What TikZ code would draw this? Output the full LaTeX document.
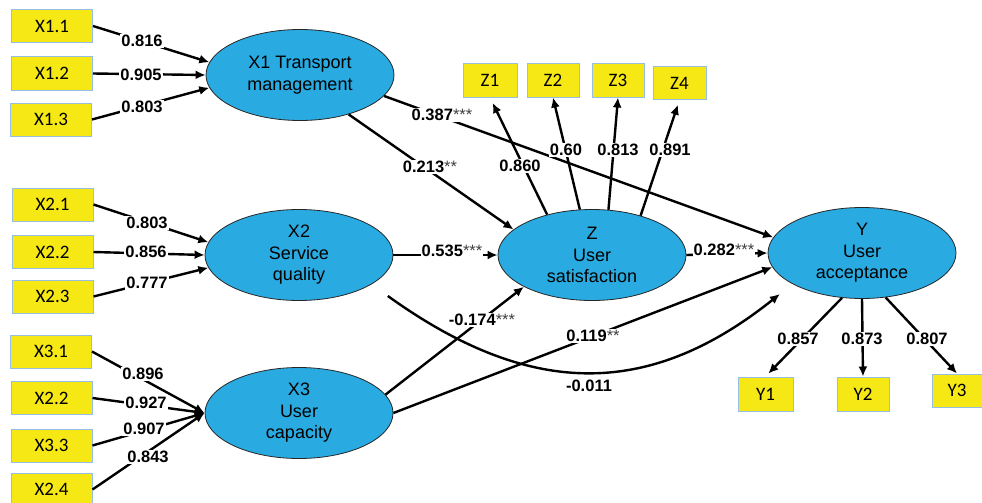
\documentclass[tikz,border=0pt]{standalone}
\usepackage{fontspec}
\setmainfont{Liberation Sans}
\newfontfamily\boxfont{Carlito}
\usetikzlibrary{shapes.geometric,arrows.meta}
\definecolor{ybox}{RGB}{245,232,20}
\definecolor{bborder}{RGB}{150,190,225}
\definecolor{ell}{RGB}{41,171,226}
\newcommand{\stars}[1]{{\mdseries\color{black!75}#1}}
\begin{document}
\begin{tikzpicture}[x=1pt,y=-1pt,
 ind/.style={draw=bborder, line width=1pt, fill=ybox, minimum width=81pt, minimum height=33pt, inner sep=0pt, font=\boxfont\fontsize{19}{22}\selectfont},
 lat/.style={ellipse, draw=black!85, line width=0.8pt, fill=ell, minimum width=188pt, minimum height=91pt, inner sep=0pt, align=center, font=\fontsize{18}{21.5}\selectfont},
 arr/.style={line width=2.4pt, -{Latex[length=10pt,width=9pt]}},
 lbl/.style={fill=white, inner sep=1.2pt, font=\bfseries\fontsize{16.5}{18}\selectfont}
]
\useasboundingbox (0,0) rectangle (982,503);
\fill[white] (0,0) rectangle (982,503);

% indicator boxes
\node[ind] (x11) at (52,26) {X1.1};
\node[ind] (x12) at (52,73.5) {X1.2};
\node[ind] (x13) at (51,119.5) {X1.3};
\node[ind] (x21) at (52.5,204.5) {X2.1};
\node[ind] (x22) at (52.5,252) {X2.2};
\node[ind] (x23) at (52.5,296.5) {X2.3};
\node[ind] (x31) at (51,351.5) {X3.1};
\node[ind] (x32) at (51.5,398) {X2.2};
\node[ind] (x33) at (51.5,445.5) {X3.3};
\node[ind] (x34) at (51.5,489.5) {X2.4};
\node[ind, minimum width=54pt] (z1) at (490,80.5) {Z1};
\node[ind, minimum width=52pt] (z2) at (553,80.5) {Z2};
\node[ind, minimum width=52pt] (z3) at (618,80.5) {Z3};
\node[ind, minimum width=53pt] (z4) at (679.5,83) {Z4};
\node[ind, minimum width=55pt, minimum height=34pt] (y1) at (765.5,394) {Y1};
\node[ind, minimum width=52pt, minimum height=34pt] (y2) at (863,394) {Y2};
\node[ind, minimum width=50pt] (y3) at (957,390.5) {Y3};

% latent variables
\node[lat] (X1) at (300,75) {X1 Transport\\management};
\node[lat] (X2) at (299,255) {X2\\Service\\quality};
\node[lat] (X3) at (299,413) {X3\\User\\capacity};
\node[lat] (Z) at (592,255) {Z\\User\\satisfaction};
\node[lat] (Y) at (862,253) {Y\\User\\acceptance};

% measurement paths
\draw[arr] (x11.east) -- (X1.172);
\draw[arr] (x12.east) -- (X1.180);
\draw[arr] (x13.east) -- (X1.188);
\draw[arr] (x21.east) -- (X2.172);
\draw[arr] (x22.east) -- (X2.180);
\draw[arr] (x23.east) -- (X2.188);
\draw[arr] (x31.east) -- (X3.west);
\draw[arr] (x32.east) -- (X3.west);
\draw[arr] (x33.east) -- (X3.west);
\draw[arr] (x34.east) -- (X3.west);
\draw[arr, shorten >=6pt] (Z.138) -- (z1.south);
\draw[arr] (Z.105) -- (z2.south);
\draw[arr] (Z.70) -- (z3.south);
\draw[arr, shorten >=5pt] (Z.39) -- (z4.south);
\draw[arr, shorten >=4pt] (Y.246) -- (y1.north);
\draw[arr] (Y.270) -- (y2.north);
\draw[arr] (Y.298) -- (y3.north);

% structural paths
\draw[arr] (X1.346) -- (Y.170);
\draw[arr] (X1.321) -- (Z.162);
\draw[arr] (X2.east) -- (Z.west);
\draw[arr] (Z.east) -- (Y.west);
\draw[arr] (X3.12) -- (Z.205.5);
\draw[arr] (X3.east) -- (Y.189);
\draw[arr, shorten <=20pt, shorten >=16pt] (X2.338) .. controls (527,396) and (646,401) .. (Y.204);

% labels
\node[lbl] (l1) at (142,41) {0.816};
\node[lbl] (l2) at (141,75) {0.905};
\node[lbl] (l3) at (142,107) {0.803};
\node[lbl] (l4) at (147,223) {0.803};
\node[lbl] (l5) at (146,252) {0.856};
\node[lbl] (l6) at (147,283) {0.777};
\node[lbl] (l7) at (143,374) {0.896};
\node[lbl] (l8) at (146,403) {0.927};
\node[lbl] (l9) at (144,429) {0.907};
\node[lbl] (l10) at (148,457) {0.843};
\node[lbl] (l11) at (520,166) {0.860};
\node[lbl] (l12) at (566,150) {0.60};
\node[lbl] (l13) at (618,150) {0.813};
\node[lbl] (l14) at (670,150) {0.891};
\node[lbl] (l15) at (798,339) {0.857};
\node[lbl] (l16) at (862,339) {0.873};
\node[lbl] (l17) at (927,339) {0.807};
\node[lbl] (l18) at (442,115) {0.387\stars{***}};
\node[lbl] (l19) at (430,167) {0.213\stars{**}};
\node[lbl] (l20) at (452,251) {0.535\stars{***}};
\node[lbl] (l21) at (724,250) {0.282\stars{***}};
\node[lbl] (l22) at (482,320) {-0.174\stars{***}};
\node[lbl] (l23) at (593,336) {0.119\stars{**}};
\node[lbl] (l24) at (589,386) {-0.011};
\end{tikzpicture}
\end{document}
